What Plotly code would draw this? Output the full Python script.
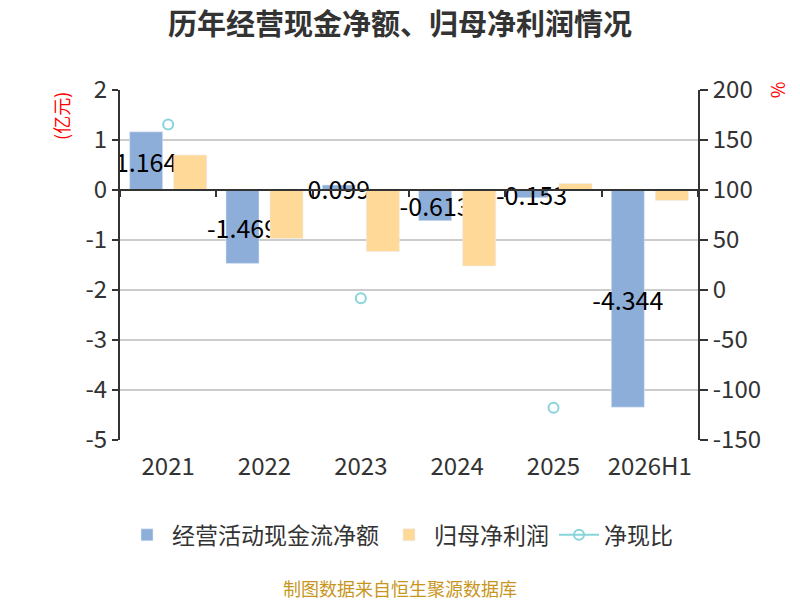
import plotly.graph_objects as go

# 报告期
years = ["2021", "2022", "2023", "2024", "2025", "2026H1"]
# 经营活动现金流净额(亿元)
cash_flow = [1.164, -1.469, 0.099, -0.613, -0.153, -4.344]
# 归母净利润(亿元)
net_profit = [0.70, -0.97, -1.23, -1.52, 0.13, -0.21]
# 净现比(%)
cash_ratio = [165.6, None, -8.3, None, -117.7, None]
# 坐标轴刻度
left_ticks = [2, 1, 0, -1, -2, -3, -4, -5]
right_ticks = [200, 150, 100, 50, 0, -50, -100, -150]

FONT = "Noto Sans CJK SC"
AXIS = "#333333"

fig = go.Figure()

fig.add_trace(go.Bar(
    x=years, y=cash_flow, name="经营活动现金流净额",
    marker=dict(color="#8eaeda"),
    text=[f"{v:.3f}" for v in cash_flow],
    textposition="inside", insidetextanchor="middle",
    textangle=0, constraintext="none",
    textfont=dict(color="#000000", size=25, family=FONT),
))
fig.add_trace(go.Bar(
    x=years, y=net_profit, name="归母净利润",
    marker=dict(color="#ffd998"),
))
fig.add_trace(go.Scatter(
    x=years, y=cash_ratio, name="净现比", yaxis="y2",
    mode="lines+markers",
    line=dict(color="#88d4db", width=2),
    marker=dict(symbol="circle-open", size=10, color="#88d4db",
                line=dict(width=2)),
))
# category axis drawn along zero, only for its boundary ticks
fig.add_trace(go.Scatter(
    x=years, y=[None] * len(years), xaxis="x2",
    showlegend=False, hoverinfo="skip",
))

fig.update_layout(
    width=792, height=592,
    margin=dict(l=112, r=102, t=82, b=160),
    paper_bgcolor="white", plot_bgcolor="white",
    font=dict(family=FONT, color=AXIS, size=24),
    title=dict(text="<b>历年经营现金净额、归母净利润情况</b>",
               x=(400 - 8) / 792, xanchor="center",
               y=1 - 17 / 592, yanchor="middle",
               font=dict(size=29, color=AXIS)),
    barmode="group", bargap=0.086, bargroupgap=0.25,
    xaxis=dict(type="category", domain=[0, 1], showline=False, ticks="",
               showgrid=False, automargin=False, ticklabelstandoff=10,
               tickfont=dict(size=24)),
    xaxis2=dict(type="category", domain=[0, 1], overlaying="x",
                anchor="free", position=5 / 7, range=[-0.5, 5.5],
                showline=True, linecolor=AXIS, linewidth=2,
                ticks="outside", tickson="boundaries", ticklen=6,
                tickcolor=AXIS, tickwidth=1.5, automargin=False,
                showticklabels=False, showgrid=False),
    yaxis=dict(range=[-5, 2], tickvals=left_ticks,
               ticktext=[str(v) for v in left_ticks],
               domain=[0, 1], showline=True,
               linecolor=AXIS, linewidth=2, ticks="outside", ticklen=6,
               tickcolor=AXIS, tickwidth=1.5, gridcolor="#cccccc",
               gridwidth=1.5, zeroline=False, automargin=False,
               tickfont=dict(size=24)),
    yaxis2=dict(range=[-150, 200], tickvals=right_ticks,
                ticktext=[str(v) for v in right_ticks],
                overlaying="y", side="right",
                anchor="x", showline=True, linecolor=AXIS, linewidth=2,
                ticks="outside", ticklen=8, tickcolor=AXIS, tickwidth=1.5,
                showgrid=False, zeroline=False, automargin=False,
                tickfont=dict(size=24)),
    legend=dict(orientation="h", x=(392 - 112) / 578, xanchor="center",
                y=-0.271, yanchor="middle", font=dict(size=23),
                itemwidth=40, traceorder="normal"),
    annotations=[
        dict(text="(亿元)", xref="paper", yref="paper", x=-0.102, y=0.926,
             xanchor="center", yanchor="middle",
             textangle=-90, showarrow=False,
             font=dict(size=18, color="#ff0000")),
        dict(text="%", xref="paper", yref="paper", x=1.137, y=1.0,
             xanchor="center", yanchor="middle",
             textangle=-90, showarrow=False,
             font=dict(size=18, color="#ff0000")),
        dict(text="制图数据来自恒生聚源数据库", xref="paper", yref="paper",
             x=(392 - 112) / 578, y=(432 - 580) / 350, yanchor="middle",
             showarrow=False, font=dict(size=18, color="#c8961e")),
    ],
)

fig.write_html("out.html")
